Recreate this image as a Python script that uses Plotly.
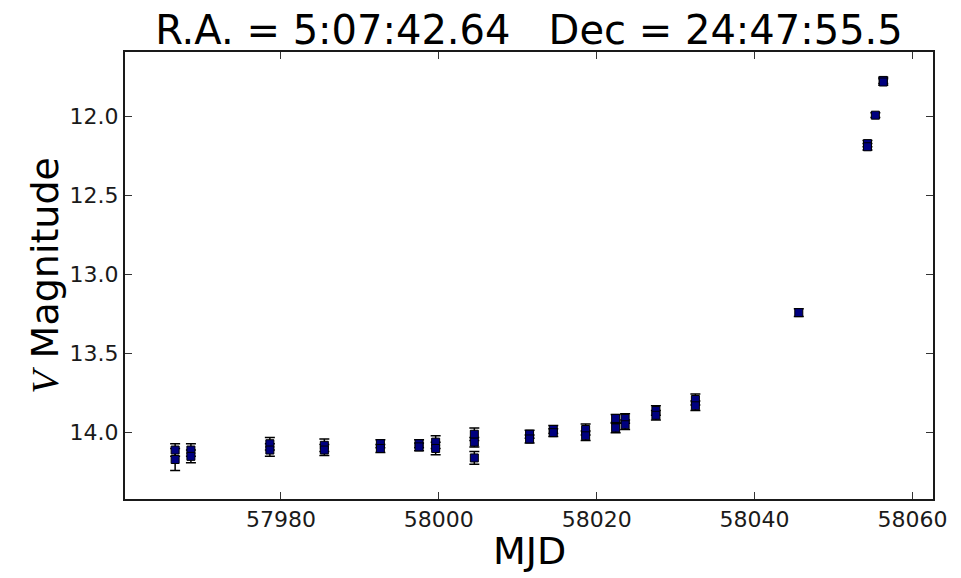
import plotly.graph_objects as go

# Data
mjd = [57966.6, 57966.6,
       57968.6, 57968.6,
       57978.6, 57978.6,
       57985.5, 57985.5,
       57992.6, 57992.6,
       57997.5, 57997.5,
       57999.6, 57999.6,
       58004.5, 58004.5, 58004.5,
       58011.5, 58011.5,
       58014.5, 58014.5,
       58018.6, 58018.6,
       58022.4, 58022.4,
       58023.6, 58023.6,
       58027.5, 58027.5,
       58032.5, 58032.5,
       58045.6,
       58054.3, 58054.3,
       58055.3,
       58056.3, 58056.3]

vmag = [14.11, 14.17,
        14.11, 14.15,
        14.07, 14.11,
        14.08, 14.11,
        14.07, 14.10,
        14.07, 14.09,
        14.06, 14.10,
        14.01, 14.06, 14.16,
        14.01, 14.04,
        13.98, 14.00,
        13.98, 14.02,
        13.91, 13.97,
        13.91, 13.95,
        13.86, 13.89,
        13.79, 13.83,
        13.24,
        12.17, 12.19,
        11.99,
        11.77, 11.78]

vmag_err = [0.04, 0.07,
            0.04, 0.04,
            0.04, 0.04,
            0.04, 0.035,
            0.025, 0.025,
            0.025, 0.025,
            0.04, 0.04,
            0.04, 0.03, 0.04,
            0.025, 0.025,
            0.025, 0.025,
            0.035, 0.03,
            0.025, 0.03,
            0.03, 0.03,
            0.03, 0.03,
            0.035, 0.03,
            0.025,
            0.02, 0.02,
            0.015,
            0.02, 0.02]

x_ticks = [57980, 58000, 58020, 58040, 58060]
y_ticks = [12.0, 12.5, 13.0, 13.5, 14.0]
title_text = "R.A. = 5:07:42.64   Dec = 24:47:55.5"

FONT = "DejaVu Sans"

fig = go.Figure()
fig.add_trace(go.Scatter(
    x=mjd, y=vmag, mode="markers",
    marker=dict(symbol="square", size=8, color="#000080",
                line=dict(color="black", width=1)),
    error_y=dict(type="data", array=vmag_err, visible=True,
                 color="black", thickness=1.5, width=5),
    showlegend=False,
))

axis_common = dict(
    showline=True, linecolor="#1a1a1a", linewidth=2, mirror="ticks",
    ticks="inside", ticklen=7, tickwidth=1, tickcolor="#333333",
    showgrid=False, zeroline=False,
    tickfont=dict(family=FONT, size=22, color="#1a1a1a"),
)

fig.update_layout(
    width=961, height=578,
    margin=dict(l=125, r=28, t=52, b=79),
    paper_bgcolor="white", plot_bgcolor="white",
    title=dict(text=title_text, x=0.5, xref="paper", xanchor="center",
               y=1 - 30 / 578, yref="container", yanchor="middle",
               font=dict(family=FONT, size=40, color="black")),
    xaxis=dict(range=[57960.25, 58062.6], tickvals=x_ticks,
               ticktext=[str(v) for v in x_ticks], **axis_common),
    yaxis=dict(range=[14.42, 11.59], tickvals=y_ticks,
               ticktext=[f"{v:.1f}" for v in y_ticks], **axis_common),
    annotations=[
        dict(text="MJD", xref="paper", yref="paper", x=0.5, y=-0.116,
             xanchor="center", yanchor="middle", showarrow=False,
             font=dict(family=FONT, size=38, color="black")),
        dict(text='<span style="font-family:Liberation Serif"><i>V</i></span> Magnitude',
             xref="paper", yref="paper", x=-0.1, y=0.5,
             xanchor="center", yanchor="middle", textangle=-90, showarrow=False,
             font=dict(family=FONT, size=38, color="black")),
    ],
)

fig.write_html("out.html")
